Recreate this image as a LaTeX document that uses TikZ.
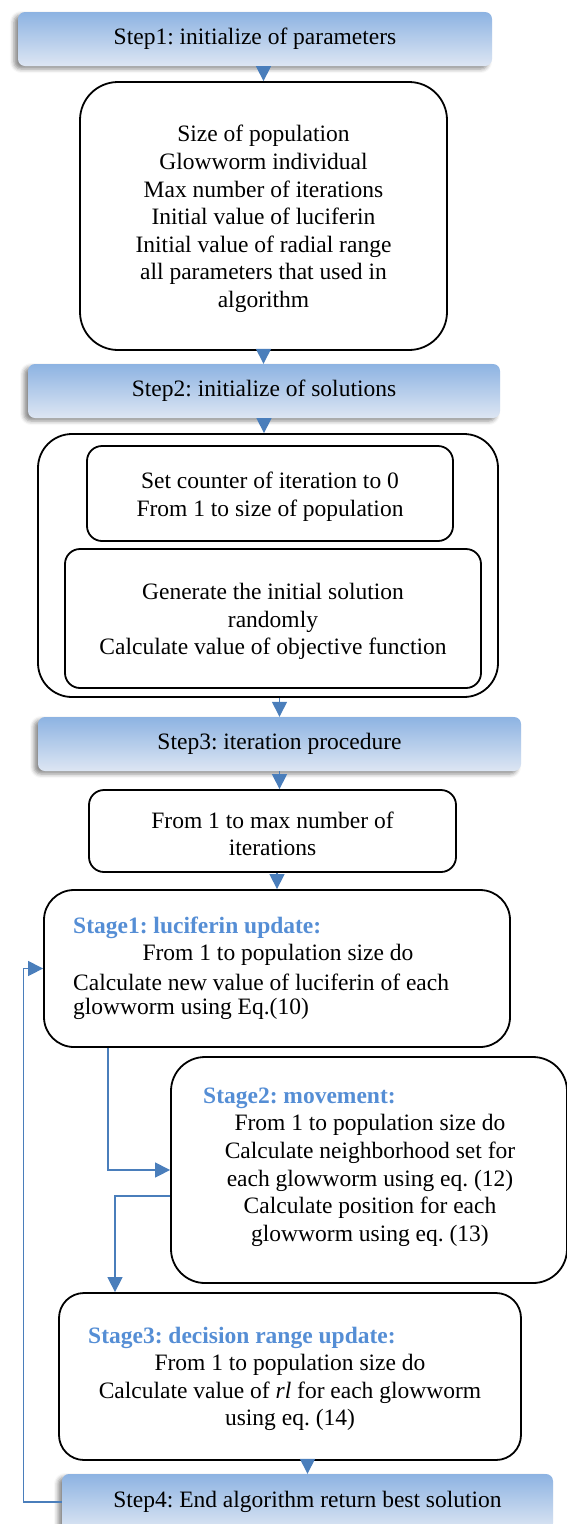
\documentclass[tikz,border=0pt]{standalone}
\usepackage{fontspec}
\setmainfont{Liberation Serif}
\usetikzlibrary{arrows.meta,shadows.blur}
\definecolor{arrblue}{RGB}{74,126,187}
\definecolor{headblue}{RGB}{85,142,213}
\definecolor{bartop}{RGB}{141,179,226}
\definecolor{barbot}{RGB}{221,230,243}
\frenchspacing
\begin{document}
\begin{tikzpicture}[x=1pt,y=-1pt,
  font=\fontsize{23.5}{27.6}\selectfont,
  bar/.style={rounded corners=7pt, top color=bartop, bottom color=barbot, draw=none, inner sep=0pt,
    blur shadow={shadow xshift=-4pt,shadow yshift=-3pt,shadow blur radius=4pt,shadow opacity=45}},
  box/.style={draw=black, line width=1.8pt, fill=white, inner sep=0pt},
  arr/.style={draw=arrblue, line width=1.3pt, -{Triangle[width=15pt,length=15pt]}},
  head/.style={text=headblue, font=\fontsize{23.5}{27.6}\selectfont\bfseries, anchor=west, inner sep=0pt},
  txt/.style={inner sep=0pt, align=center}
]
\useasboundingbox (0,0) rectangle (566,1524);

% steps
\node[bar, minimum width=474pt, minimum height=54pt] (s1) at (255,39) {Step1: initialize of parameters};
\node[box, rounded corners=38pt, minimum width=367pt, minimum height=268pt] (b1) at (263.5,216) {};
\node[txt] (tb1) at (263.5,219)
  {Size of population\\Glowworm individual\\Max number of iterations\\Initial value of luciferin\\Initial value of radial range\\all parameters that used in\\algorithm};
\node[bar, minimum width=472pt, minimum height=54pt] (s2) at (264,391) {Step2: initialize of solutions};
\node[box, rounded corners=34pt, minimum width=460pt, minimum height=263pt] (out) at (268,565.5) {};
\node[box, rounded corners=15pt, minimum width=366pt, minimum height=95pt] (ia) at (270,493.5) {};
\node[txt] (tia) at (270,497) {Set counter of iteration to 0\\From 1 to size of population};
\node[box, rounded corners=15pt, minimum width=416pt, minimum height=139pt] (ib) at (273,618.5) {};
\node[txt] (tib) at (273,621.5) {Generate the initial solution\\randomly\\Calculate value of objective function};
\node[bar, minimum width=483pt, minimum height=54pt] (s3) at (279.5,744) {Step3: iteration procedure};
\node[box, rounded corners=15pt, minimum width=367pt, minimum height=82pt] (it) at (272.5,831) {};
\node[txt] (tit) at (272.5,834) {From 1 to max number of\\iterations};

% stage 1
\node[box, rounded corners=30pt, minimum width=466pt, minimum height=157pt] (st1) at (277,968.5) {};
\node[head] (h1) at (73,928) {Stage1: luciferin update:};
\node[txt] (t1a) at (278,955) {From 1 to population size do};
\node[txt, anchor=west] (t1b) at (73,982) {Calculate new value of luciferin of each};
\node[txt, anchor=west] (t1c) at (73,1009) {glowworm using Eq.(10)};

% stage 2
\node[box, rounded corners=34pt, minimum width=396pt, minimum height=226pt] (st2) at (369,1170) {};
\node[head] (h2) at (203,1098) {Stage2: movement:};
\node[txt] (t2) at (370,1180.5)
  {From 1 to population size do\\Calculate neighborhood set for\\each glowworm using eq. (12)\\Calculate position for each\\glowworm using eq. (13)};

% stage 3
\node[box, rounded corners=25pt, minimum width=462pt, minimum height=167pt] (st3) at (290,1376.5) {};
\node[head] (h3) at (88,1338) {Stage3: decision range update:};
\node[txt] (t3) at (290,1392.5)
  {From 1 to population size do\\Calculate value of \textit{rl} for each glowworm\\using eq. (14)};

\node[bar, minimum width=491pt, minimum height=56pt] (s4) at (307.5,1502) {Step4: End algorithm return best solution};

% connectors
\draw[arr] (s1.south -| b1.north) -- (b1.north);
\draw[arr] (b1.south) -- (b1.south |- s2.north);
\draw[arr] (s2.south) -- (s2.south |- out.north);
\draw[arr] (s3.north |- out.south) -- (s3.north);
\draw[arr] (s3.south) -- (s3.south |- it.north);
\draw[arr] (st1.north |- it.south) -- (st1.north);
\draw[arr] ([xshift=-169pt]st1.south) |- (st2.west);
\draw[arr] ([yshift=-26pt]st2.west) -| ([xshift=-175pt]st3.north);
\draw[arr] (s4.north |- st3.south) -- (s4.north);
\draw[arr] (s4.west) -- ++(-38,0) |- (st1.west);
\end{tikzpicture}
\end{document}
